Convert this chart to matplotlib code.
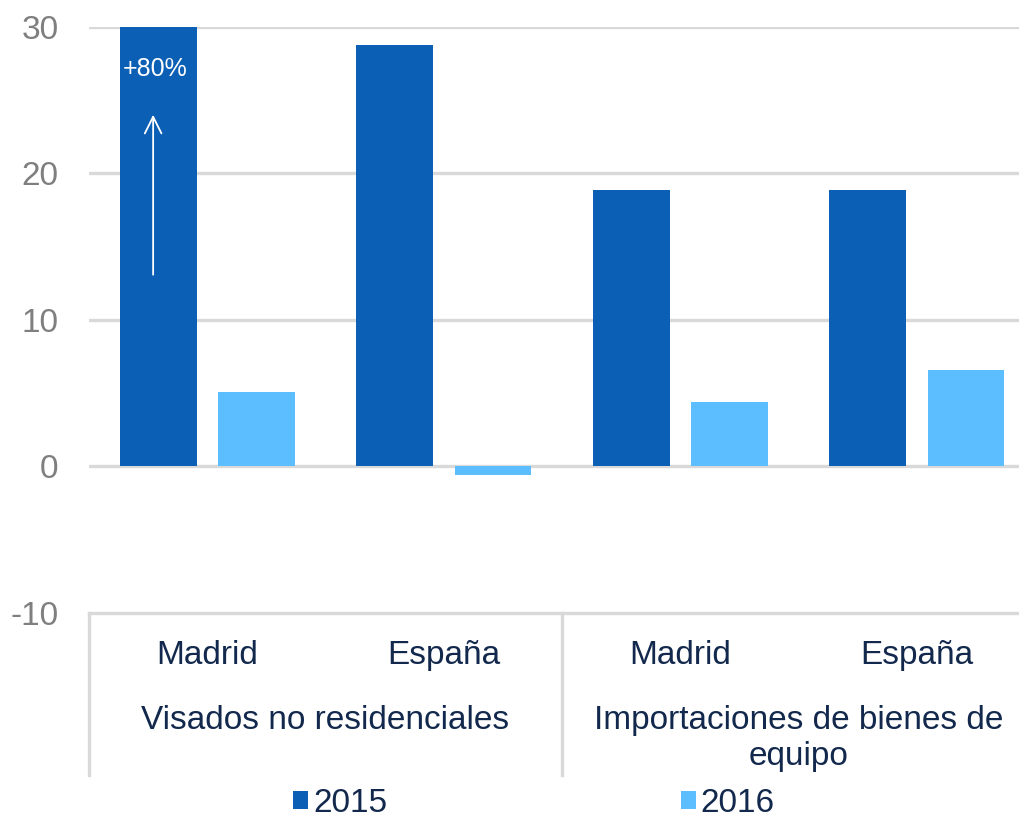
import matplotlib.pyplot as plt
import numpy as np

# datos
regiones = ['Madrid', 'España', 'Madrid', 'España']
grupos = ['Visados no residenciales', 'Importaciones de bienes de\nequipo']
serie_2015 = [80, 28.8, 18.9, 18.9]
serie_2016 = [5.1, -0.6, 4.4, 6.6]
años = ['2015', '2016']
etiqueta_madrid = '+80%'

azul = '#0B5FB4'
celeste = '#5CBEFF'
gris = '#D9D9D9'
texto = '#12284C'

plt.rcParams['font.family'] = ['Liberation Sans', 'DejaVu Sans']

fig = plt.figure(figsize=(10.2, 8.23), dpi=100)
ax = fig.add_axes([0.0873, 0.2552, 0.9274, 0.712])

x = np.arange(len(regiones))
ancho = 0.325
b1 = ax.bar(x - 0.208, serie_2015, ancho, color=azul, zorder=3, label=años[0])
b2 = ax.bar(x + 0.208, serie_2016, ancho, color=celeste, zorder=3, label=años[1])

ax.set_xlim(-0.5, 3.5)
ax.set_ylim(-10, 30)
ax.set_yticks([-10, 0, 10, 20, 30])
ax.set_yticklabels(['-10', '0', '10', '20', '30'])
ax.tick_params(axis='y', length=0, pad=22, labelsize=24, labelcolor='#7F7F7F')
ax.set_xticks([])

for y in [0, 10, 20, 30]:
    ax.axhline(y, color=gris, lw=2.4, zorder=2)

for s in ['left', 'right', 'top']:
    ax.spines[s].set_visible(False)
ax.spines['bottom'].set_color(gris)
ax.spines['bottom'].set_linewidth(2.4)

# flecha y etiqueta de la barra recortada
ax.annotate('', xy=(-0.229, 24.2), xytext=(-0.229, 12.9),
            arrowprops=dict(arrowstyle='->', color='white', lw=1.3,
                            mutation_scale=30), zorder=5)
ax.text(-0.22, 27.1, etiqueta_madrid, color='white', fontsize=18,
        ha='center', va='center', zorder=5)

# eje de categorias en dos niveles
tr = ax.get_xaxis_transform()
for i, r in enumerate(regiones):
    ax.text(i, -0.0734, r, transform=tr, ha='center', va='center',
            fontsize=24, color=texto, clip_on=False)
ax.text(0.5, -0.184, grupos[0], transform=tr, ha='center', va='center',
        fontsize=24, color=texto, clip_on=False)
ax.text(2.5, -0.2145, grupos[1], transform=tr, ha='center', va='center',
        fontsize=24, color=texto, clip_on=False)
for xs in [-0.5, 1.5, 3.5]:
    ax.plot([xs, xs], [0, -0.276], transform=tr, color=gris, lw=2.4,
            clip_on=False)

fig.legend(handles=[b1, b2], labels=años, loc='center',
           bbox_to_anchor=(0.5235, 0.024), ncol=2, frameon=False,
           fontsize=24, handlelength=0.45, handleheight=0.45,
           handletextpad=0.15, columnspacing=8.8, labelcolor=texto,
           borderpad=0.1)

fig.savefig('out.png', dpi=100)
